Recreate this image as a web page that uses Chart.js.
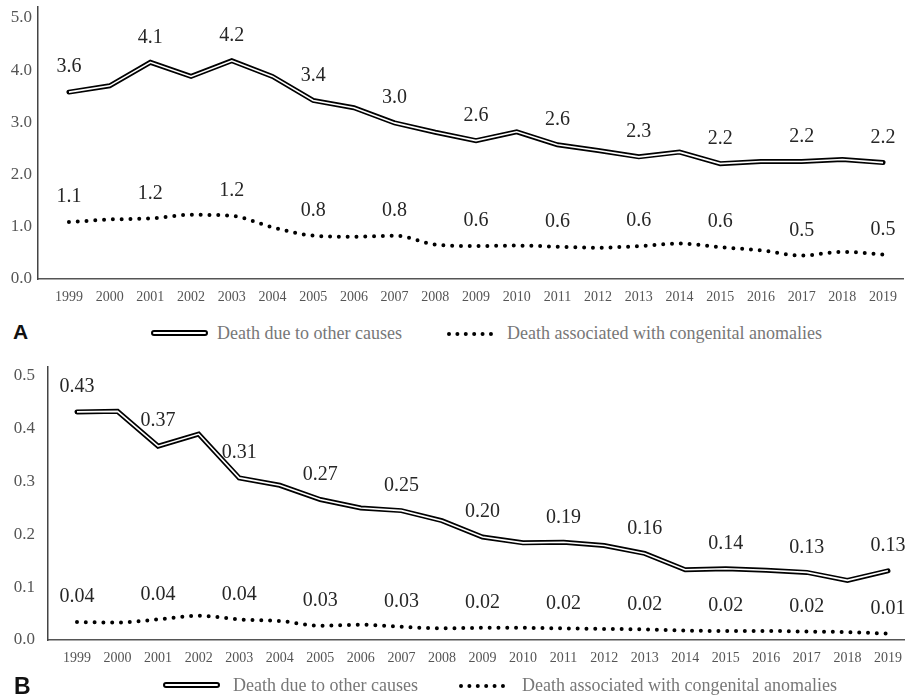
<!DOCTYPE html>
<html>
<head>
<meta charset="utf-8">
<script src="https://cdn.jsdelivr.net/npm/chart.js@4"></script>
<style>
  html, body { margin: 0; padding: 0; background: #fff; }
  #wrap { position: relative; width: 905px; height: 697px; overflow: hidden; }
  canvas { position: absolute; left: 0; }
  .panel { position: absolute; font: bold 21px "Liberation Sans", Arial, sans-serif; color: #111; }
  .leg { position: absolute; font: 18px "Liberation Serif", "Times New Roman", serif; color: #777; white-space: nowrap; line-height: 20px; }
  .dbl { position: absolute; width: 53px; height: 2px; border: 2px solid #000; border-radius: 3px; background: #fff; }
  .dots { position: absolute; width: 46px; height: 0; border-top: 4px dotted #000; }
</style>
</head>
<body>
<div id="wrap">
  <canvas id="chartA" width="905" height="310" style="top:0"></canvas>
  <canvas id="chartB" width="905" height="320" style="top:355px"></canvas>

  <div class="panel" style="left:13px; top:320px;">A</div>
  <div class="dbl" style="left:151px; top:330px;"></div>
  <div class="leg" style="left:217px; top:323px;">Death due to other causes</div>
  <div class="dots" style="left:447px; top:332px;"></div>
  <div class="leg" style="left:507px; top:323px;">Death associated with congenital anomalies</div>

  <div class="panel" style="left:14px; top:673px; font-size:23px;">B</div>
  <div class="dbl" style="left:163px; top:682px;"></div>
  <div class="leg" style="left:233px; top:675px;">Death due to other causes</div>
  <div class="dots" style="left:459px; top:684px;"></div>
  <div class="leg" style="left:522px; top:675px;">Death associated with congenital anomalies</div>
</div>
<script>
// years on the x axis
const years = [1999, 2000, 2001, 2002, 2003, 2004, 2005, 2006, 2007, 2008, 2009,
               2010, 2011, 2012, 2013, 2014, 2015, 2016, 2017, 2018, 2019];

// panel A
const otherA = [3.58, 3.70, 4.15, 3.88, 4.18, 3.88, 3.42, 3.28, 2.99, 2.81, 2.65,
                2.82, 2.57, 2.46, 2.34, 2.43, 2.21, 2.25, 2.25, 2.29, 2.23];
const congenitalA = [1.09, 1.14, 1.16, 1.23, 1.21, 0.99, 0.83, 0.81, 0.83, 0.66, 0.63,
                     0.64, 0.62, 0.60, 0.63, 0.68, 0.61, 0.55, 0.45, 0.52, 0.47];
const otherALabels = ['3.6', '', '4.1', '', '4.2', '', '3.4', '', '3.0', '', '2.6',
                      '', '2.6', '', '2.3', '', '2.2', '', '2.2', '', '2.2'];
const congenitalALabels = ['1.1', '', '1.2', '', '1.2', '', '0.8', '', '0.8', '', '0.6',
                           '', '0.6', '', '0.6', '', '0.6', '', '0.5', '', '0.5'];
const yTicksA = [0, 1, 2, 3, 4, 5];

// panel B
const otherB = [0.432, 0.433, 0.367, 0.390, 0.307, 0.293, 0.266, 0.250, 0.245, 0.226, 0.195,
                0.184, 0.185, 0.179, 0.164, 0.133, 0.135, 0.132, 0.128, 0.113, 0.131];
const congenitalB = [0.034, 0.033, 0.039, 0.046, 0.039, 0.036, 0.027, 0.029, 0.025, 0.022, 0.023,
                     0.023, 0.022, 0.021, 0.020, 0.018, 0.017, 0.017, 0.016, 0.015, 0.012];
const otherBLabels = ['0.43', '', '0.37', '', '0.31', '', '0.27', '', '0.25', '', '0.20',
                      '', '0.19', '', '0.16', '', '0.14', '', '0.13', '', '0.13'];
const congenitalBLabels = ['0.04', '', '0.04', '', '0.04', '', '0.03', '', '0.03', '', '0.02',
                           '', '0.02', '', '0.02', '', '0.02', '', '0.02', '', '0.01'];
const yTicksB = [0, 0.1, 0.2, 0.3, 0.4, 0.5];

const SERIF = '"Liberation Serif", "Times New Roman", serif';

// writes the value labels above the points
const valueLabels = {
  id: 'valueLabels',
  afterDatasetsDraw(chart) {
    const ctx = chart.ctx;
    ctx.save();
    ctx.font = '20px ' + SERIF;
    ctx.fillStyle = '#262626';
    ctx.textAlign = 'center';
    ctx.textBaseline = 'middle';
    chart.data.datasets.forEach((ds, i) => {
      if (!ds.pointText) return;
      chart.getDatasetMeta(i).data.forEach((pt, j) => {
        const t = ds.pointText[j];
        if (t) ctx.fillText(t, pt.x, pt.y - 25);
      });
    });
    ctx.restore();
  }
};

function pts(vals) {
  return vals.map((v, i) => ({ x: years[i], y: v }));
}

function makeChart(id, other, congenital, otherLabels, congLabels, yTicks, d) {
  new Chart(document.getElementById(id), {
    type: 'line',
    data: {
      datasets: [
        { data: pts(other), borderColor: '#fff', borderWidth: 1.6, pointRadius: 0,
          borderCapStyle: 'butt', borderJoinStyle: 'miter', tension: 0, order: 0 },
        { data: pts(other), borderColor: '#000', borderWidth: 5, pointRadius: 0,
          borderCapStyle: 'round', borderJoinStyle: 'miter', tension: 0, order: 1,
          pointText: otherLabels },
        { data: pts(congenital), borderColor: '#000', borderWidth: 4, pointRadius: 0,
          borderDash: [0, 8.8], borderCapStyle: 'round', cubicInterpolationMode: 'monotone',
          order: 2, pointText: congLabels }
      ]
    },
    options: {
      responsive: false,
      animation: false,
      layout: { padding: { top: d.top, right: d.right, left: 0, bottom: 0 } },
      plugins: { legend: { display: false }, tooltip: { enabled: false } },
      scales: {
        x: {
          type: 'linear', min: d.xMin, max: d.xMax,
          grid: { display: false, drawTicks: false },
          border: { display: true, color: '#555', width: 1.5 },
          afterBuildTicks: s => { s.ticks = years.map(v => ({ value: v })); },
          afterFit: s => { s.height = d.xHeight; s.paddingLeft = 0; s.paddingRight = 0; },
          ticks: { autoSkip: false, maxRotation: 0, padding: 10, color: '#555',
                   font: { family: SERIF, size: 14 }, callback: v => String(v) }
        },
        y: {
          min: 0, max: d.yMax,
          grid: { display: false, drawTicks: false },
          border: { display: true, color: '#444', width: 1.5 },
          afterBuildTicks: s => { s.ticks = yTicks.map(v => ({ value: v })); },
          afterFit: s => { s.width = d.leftW; s.paddingTop = 0; s.paddingBottom = 0; },
          ticks: { padding: d.yPad, color: '#555',
                   font: { family: SERIF, size: 17 }, callback: v => v.toFixed(1) }
        }
      }
    },
    plugins: [valueLabels]
  });
}

function drawAll() {
  makeChart('chartA', otherA, congenitalA, otherALabels, congenitalALabels, yTicksA,
    { top: 7, right: 2, xHeight: 31, leftW: 38, xMin: 1998.24, xMax: 2019.49, yMax: 5.21, yPad: 6 });
  makeChart('chartB', otherB, congenitalB, otherBLabels, congenitalBLabels, yTicksB,
    { top: 12, right: 0, xHeight: 35, leftW: 48, xMin: 1998.285, xMax: 2019.42, yMax: 0.517, yPad: 13 });
}

// make sure the serif face is ready before the canvas text is drawn
Promise.all([
  document.fonts.load('20px "Liberation Serif"'),
  document.fonts.load('14px "Liberation Serif"')
]).then(drawAll, drawAll);
</script>
</body>
</html>
